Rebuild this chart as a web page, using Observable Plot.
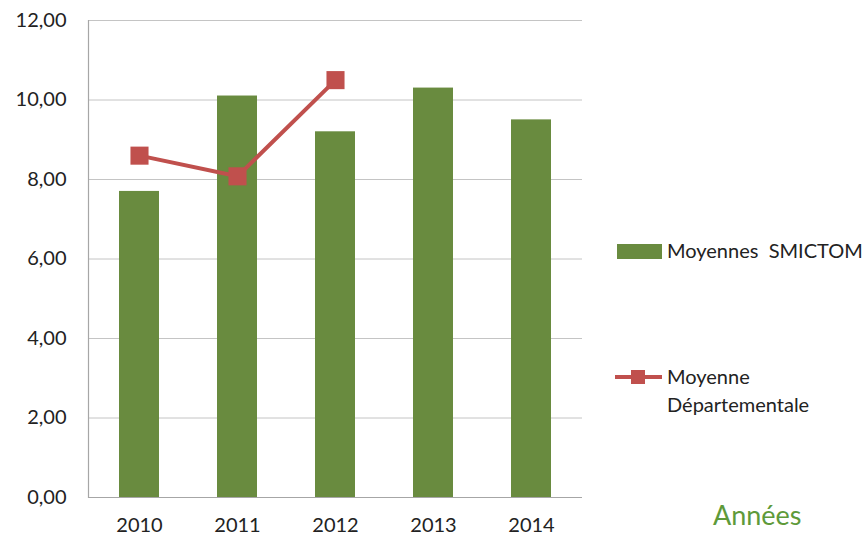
<!DOCTYPE html>
<html>
<head>
<meta charset="utf-8">
<script src="https://cdn.jsdelivr.net/npm/d3@7"></script>
<script src="https://cdn.jsdelivr.net/npm/@observablehq/plot@0.6"></script>
<style>
  html, body { margin: 0; padding: 0; background: #fff; }
  #wrap { position: relative; width: 868px; height: 535px; font-family: Lato, "Open Sans", sans-serif; }
  .leg { position: absolute; font-size: 20px; color: #222; line-height: 28px; }
  .sw { position: absolute; }
</style>
</head>
<body>
<div id="wrap"></div>
<script>
const years = ["2010", "2011", "2012", "2013", "2014"];
const smictom = [7.7, 10.1, 9.2, 10.3, 9.5];
const deptYears = ["2010", "2011", "2012"];
const departementale = [8.6, 8.08, 10.5];
const yTicks = [0, 2, 4, 6, 8, 10, 12];

const green = "#698b3f";
const red = "#c0504d";

const bars = years.map((y, i) => ({year: y, value: smictom[i]}));
const dept = deptYears.map((y, i) => ({year: y, value: departementale[i]}));

const fmt = v => v.toFixed(2).replace(".", ",");

const chart = Plot.plot({
  width: 868,
  height: 535,
  marginLeft: 88,
  marginRight: 286,
  marginTop: 20,
  marginBottom: 38,
  style: {fontFamily: "Lato, 'Open Sans', sans-serif", fontSize: "20px", color: "#222", background: "#fff"},
  x: {domain: years, paddingInner: 0.595, paddingOuter: 0.2975, align: 0.5, label: null, tickSize: 0, tickPadding: 20},
  y: {domain: [0, 12], ticks: yTicks, tickFormat: fmt, label: null, tickSize: 0, tickPadding: 22},
  marks: [
    Plot.gridY(yTicks, {stroke: "#c4c4c4", strokeOpacity: 1, strokeWidth: 1}),
    Plot.barY(bars, {x: "year", y: "value", fill: green}),
    Plot.ruleY([0], {stroke: "#a6a6a6", strokeWidth: 1.2}),
    Plot.frame({anchor: "left", stroke: "#a6a6a6", strokeWidth: 1.2}),
    Plot.line(dept, {x: "year", y: "value", stroke: red, strokeWidth: 4}),
    Plot.dot(dept, {x: "year", y: "value", symbol: "square", r: 10.2, fill: red, stroke: "none"})
  ]
});

const wrap = document.getElementById("wrap");
wrap.appendChild(chart);

// Legend (HTML)
const sw1 = document.createElement("div");
sw1.className = "sw";
Object.assign(sw1.style, {left: "617px", top: "244px", width: "45px", height: "15px", background: green});
wrap.appendChild(sw1);
const t1 = document.createElement("div");
t1.className = "leg";
Object.assign(t1.style, {left: "667px", top: "236px", whiteSpace: "pre"});
t1.textContent = "Moyennes  SMICTOM";
wrap.appendChild(t1);

const sw2 = document.createElement("div");
sw2.className = "sw";
Object.assign(sw2.style, {left: "615px", top: "375px", width: "47px", height: "4px", background: red});
wrap.appendChild(sw2);
const sq = document.createElement("div");
sq.className = "sw";
Object.assign(sq.style, {left: "631px", top: "370px", width: "14px", height: "14px", background: red});
wrap.appendChild(sq);
const t2 = document.createElement("div");
t2.className = "leg";
Object.assign(t2.style, {left: "667px", top: "362px"});
t2.innerHTML = "Moyenne<br>Départementale";
wrap.appendChild(t2);

const ann = document.createElement("div");
Object.assign(ann.style, {position: "absolute", left: "713px", top: "498px", fontSize: "27px", color: "#5e9a3a"});
ann.textContent = "Années";
wrap.appendChild(ann);
</script>
</body>
</html>
